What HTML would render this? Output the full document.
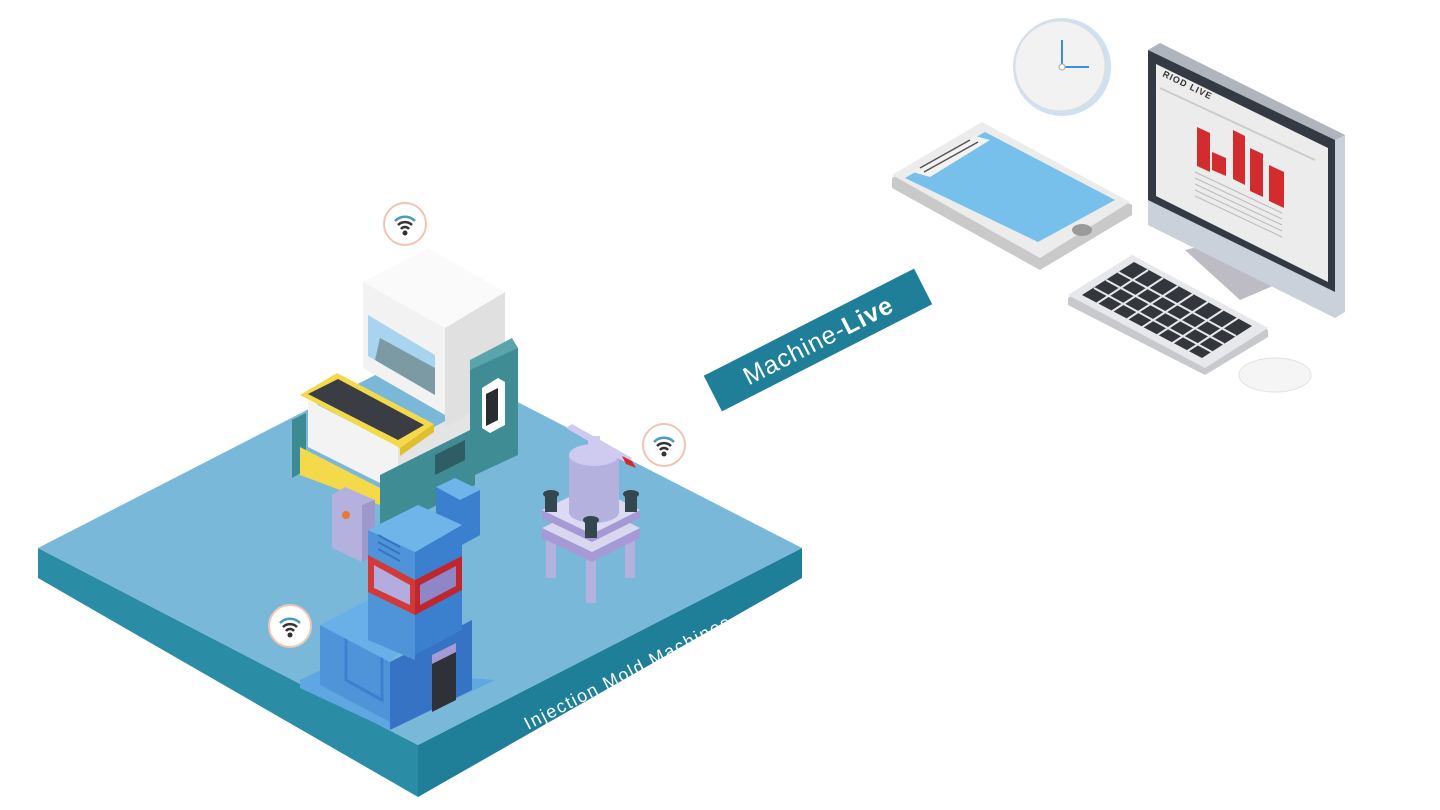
<!DOCTYPE html>
<html><head><meta charset="utf-8"><style>
html,body{margin:0;padding:0;background:#fff;width:1440px;height:810px;overflow:hidden}
svg{display:block}
text{font-family:"Liberation Sans",sans-serif}
</style></head><body>
<svg width="1440" height="810" viewBox="0 0 1440 810" xmlns="http://www.w3.org/2000/svg">
<!-- platform -->
<polygon points="38,548 418,745 418,797 38,578" fill="#2b8ca6"/>
<polygon points="418,745 802,548 802,578 418,797" fill="#1f7f99"/>
<polygon points="38,548 420,352 802,548 418,745" fill="#7ab8d9"/>
<text transform="translate(528,730) rotate(-27)" font-size="18" fill="#fff" letter-spacing="1.6">Injection Mold Machines</text>

<!-- big white machine lower -->
<polygon points="292,420 306,413 306,470 292,478" fill="#3e8a92"/>
<polygon points="300,447 380,488 380,505 300,475" fill="#f4d94a"/>
<polygon points="398,446 470,408 470,452 398,492" fill="#e4e4e4"/>
<polygon points="308,400 398,446 398,492 308,447" fill="#f3f3f3"/>
<polygon points="300,395 337,373 434,424 400,448" fill="#f4d94a"/>
<polygon points="400,448 434,424 434,432 400,456" fill="#e0bf2e"/>
<polygon points="308,394 338,379 424,425 398,440" fill="#3a3d44"/>
<!-- upper box -->
<polygon points="363,282 445,328 445,415 363,368" fill="#f2f2f2"/>
<polygon points="368,315 435,355 435,395 368,356" fill="#a8d4ef"/>
<polygon points="380,338 435,368 435,395 375,360" fill="#7b9aa4"/>
<polygon points="445,328 505,292 505,392 445,428" fill="#e0e0e0"/>
<polygon points="363,282 428,248 505,292 445,328" fill="#fafafa"/>
<!-- teal panel -->
<polygon points="380,475 470,430 470,360 518,348 518,455 475,475 475,485 380,535" fill="#3f8c94"/>
<polygon points="470,360 512,338 518,348 470,370" fill="#5aa5ad"/>
<polygon points="435,455 465,440 465,460 435,475" fill="#2f5d66"/>
<polygon points="482,388 498,378 505,382 505,425 490,433 482,428" fill="#fff"/>
<polygon points="486,394 498,388 498,420 486,426" fill="#2a2c31"/>
<!-- control box -->
<polygon points="332,495 345,487 375,500 375,555 362,562 332,548" fill="#b5b1de"/>
<polygon points="362,505 375,500 375,555 362,562" fill="#9d98cc"/>
<circle cx="346" cy="515" r="4" fill="#e87a2b"/>
<!-- blue machine -->
<polygon points="436,487 455,478 480,490 480,535 462,545 436,532" fill="#3b7fcf"/>
<polygon points="436,487 455,478 480,490 460,500" fill="#6fb5ea"/>
<polygon points="300,680 325,668 495,680 470,692 390,730 300,688" fill="#5fa7e3"/>
<polygon points="320,625 390,662 390,722 320,685" fill="#4f94d8"/>
<polygon points="346,635 382,655 382,700 346,680" fill="none" stroke="#3b7fcf" stroke-width="3"/>
<polygon points="390,662 472,620 472,690 390,730" fill="#3673c4"/>
<polygon points="432,662 456,650 456,700 432,712" fill="#2e3138"/>
<polygon points="432,655 456,643 456,652 432,664" fill="#a59ad6"/>
<polygon points="320,625 368,600 442,612 390,662" fill="#6ab0e8"/>
<polygon points="368,530 415,552 415,660 368,640" fill="#4f94d8"/>
<polygon points="415,552 462,525 462,630 415,655" fill="#3b7fcf"/>
<polygon points="368,530 418,505 462,525 415,552" fill="#6fb5ea"/>
<polygon points="368,555 415,580 415,615 368,592" fill="#d23a3a"/>
<polygon points="415,580 462,556 462,590 415,615" fill="#c0262d"/>
<polygon points="374,565 410,585 410,605 374,588" fill="#b3acde"/>
<polygon points="420,585 456,566 456,586 420,605" fill="#8f86c7"/>
<g stroke="#3673c4" stroke-width="2"><line x1="378" y1="535" x2="400" y2="547"/><line x1="378" y1="542" x2="400" y2="554"/><line x1="378" y1="549" x2="400" y2="561"/></g>
<!-- press -->
<rect x="546" y="530" width="10" height="48" fill="#b5b1de"/>
<rect x="625" y="530" width="10" height="48" fill="#b5b1de"/>
<rect x="586" y="545" width="10" height="58" fill="#b5b1de"/>
<polygon points="542,528 592,552 640,528 640,538 592,562 542,538" fill="#a59ad6"/>
<polygon points="542,528 592,504 640,528 592,552" fill="#d9d6f0"/>
<polygon points="542,510 592,534 640,510 640,518 592,542 542,518" fill="#a59ad6"/>
<polygon points="542,510 592,486 640,510 592,534" fill="#dcd9f2"/>
<rect x="569" y="455" width="50" height="57" fill="#b5b1de"/>
<ellipse cx="594" cy="512" rx="25" ry="11" fill="#b5b1de"/>
<ellipse cx="594" cy="455" rx="25" ry="11" fill="#cfcaf0"/>
<rect x="588" y="436" width="12" height="22" fill="#cfcaf0"/>
<polygon points="566,428 572,424 632,458 628,464" fill="#cfcaf0"/>
<polygon points="622,456 632,461 636,468 626,464" fill="#d32c2c"/>
<g fill="#34464f"><rect x="545" y="492" width="12" height="20"/><rect x="625" y="492" width="12" height="20"/><rect x="585" y="518" width="12" height="20"/></g>
<g fill="#34464f"><ellipse cx="551" cy="494" rx="8" ry="4"/><ellipse cx="631" cy="494" rx="8" ry="4"/><ellipse cx="591" cy="520" rx="8" ry="4"/></g>

<!-- wifi icons -->
<g id="w">
<circle cx="405" cy="224" r="21" fill="#fff" stroke="#f2c3b0" stroke-width="2"/>
<path d="M395,221 a14,14 0 0 1 20,0" fill="none" stroke="#4a9bbf" stroke-width="2.5"/>
<path d="M398,225 a10,10 0 0 1 14,0" fill="none" stroke="#333" stroke-width="2.5"/>
<path d="M401,229 a5,5 0 0 1 8,0" fill="none" stroke="#333" stroke-width="2.5"/>
<circle cx="405" cy="233" r="2.5" fill="#333"/>
</g>
<use href="#w" x="259" y="221"/>
<use href="#w" x="-115" y="402"/>

<!-- Machine-Live banner -->
<g transform="translate(818,340) rotate(-27)">
<rect x="-118" y="-20" width="236" height="40" fill="#1f7f99"/>
<text x="0" y="9" text-anchor="middle" font-size="25" fill="#fff" letter-spacing="1">Machine-<tspan font-weight="bold">Live</tspan></text>
</g>

<!-- clock -->
<circle cx="1062" cy="67" r="49" fill="#cfe0f0"/>
<circle cx="1060" cy="66" r="45" fill="#f2f2f2" stroke="#ddd"/>
<line x1="1062" y1="67" x2="1062" y2="40" stroke="#3a8fe0" stroke-width="2"/>
<line x1="1062" y1="67" x2="1089" y2="67" stroke="#3a8fe0" stroke-width="2"/>
<circle cx="1062" cy="67" r="3" fill="#fff" stroke="#aaa"/>

<!-- tablet -->
<polygon points="892,178 982,125 1132,205 1132,215 1040,270 892,188" fill="#c9c9c9"/>
<polygon points="892,175 982,122 1130,202 1040,258" fill="#ececec"/>
<polygon points="905,178 985,132 1115,200 1038,242" fill="#78c0ec"/>
<polygon points="913,172 975,136 990,140 930,177" fill="#f2f2f2"/>
<g stroke="#555" stroke-width="1.5"><line x1="920" y1="168" x2="970" y2="140"/><line x1="924" y1="172" x2="978" y2="142"/></g>
<ellipse cx="1082" cy="230" rx="10" ry="6" fill="#9a9a9a"/>

<!-- monitor -->
<polygon points="1185,250 1225,240 1275,285 1240,300" fill="#bdbbc4"/>
<polygon points="1148,50 1160,43 1345,135 1345,312 1335,318 1148,225" fill="#cbd1da"/>
<polygon points="1148,50 1160,43 1345,135 1335,140" fill="#b0b5bd"/>
<polygon points="1148,50 1335,140 1335,292 1148,200" fill="#343a44"/>
<polygon points="1156,64 1328,148 1328,282 1156,196" fill="#ececec"/>
<text transform="translate(1162,76) rotate(26)" font-size="9" font-weight="bold" fill="#333" letter-spacing="1">RIOD LIVE</text>
<line x1="1160" y1="88" x2="1315" y2="160" stroke="#ccc" stroke-width="2"/>
<g fill="#d22c2f">
<polygon points="1197,127 1210,133 1210,172 1197,166"/>
<polygon points="1212,152 1226,158 1226,176 1212,170"/>
<polygon points="1233,130 1245,136 1245,185 1233,179"/>
<polygon points="1250,148 1263,154 1263,197 1250,191"/>
<polygon points="1269,165 1284,172 1284,208 1269,201"/>
</g>
<g stroke="#bbb" stroke-width="1"><line x1="1195" y1="172" x2="1282" y2="213"/><line x1="1195" y1="178" x2="1282" y2="219"/><line x1="1195" y1="184" x2="1282" y2="225"/><line x1="1195" y1="190" x2="1282" y2="231"/><line x1="1195" y1="196" x2="1282" y2="237"/></g>

<!-- keyboard -->
<polygon points="1068,298 1132,255 1268,330 1268,337 1205,375 1068,305" fill="#c7c9cf"/>
<polygon points="1068,295 1132,255 1268,328 1205,368" fill="#e7e8ec"/>
<polygon points="1082,295 1134,262 1252,326 1202,358" fill="#33363c"/>
<g stroke="#e7e8ec" stroke-width="2">
<line x1="1094" y1="288" x2="1212" y2="352"/><line x1="1106" y1="280" x2="1224" y2="344"/><line x1="1118" y1="272" x2="1236" y2="336"/>
<line x1="1096" y1="304" x2="1148" y2="270"/><line x1="1111" y1="312" x2="1163" y2="278"/><line x1="1126" y1="320" x2="1178" y2="286"/><line x1="1141" y1="328" x2="1193" y2="294"/><line x1="1156" y1="336" x2="1208" y2="302"/><line x1="1171" y1="344" x2="1223" y2="310"/><line x1="1186" y1="352" x2="1238" y2="318"/>
</g>
<!-- mouse -->
<ellipse cx="1275" cy="375" rx="36" ry="17" fill="#f5f5f5" stroke="#e2e2e2"/>
</svg>
</body></html>
